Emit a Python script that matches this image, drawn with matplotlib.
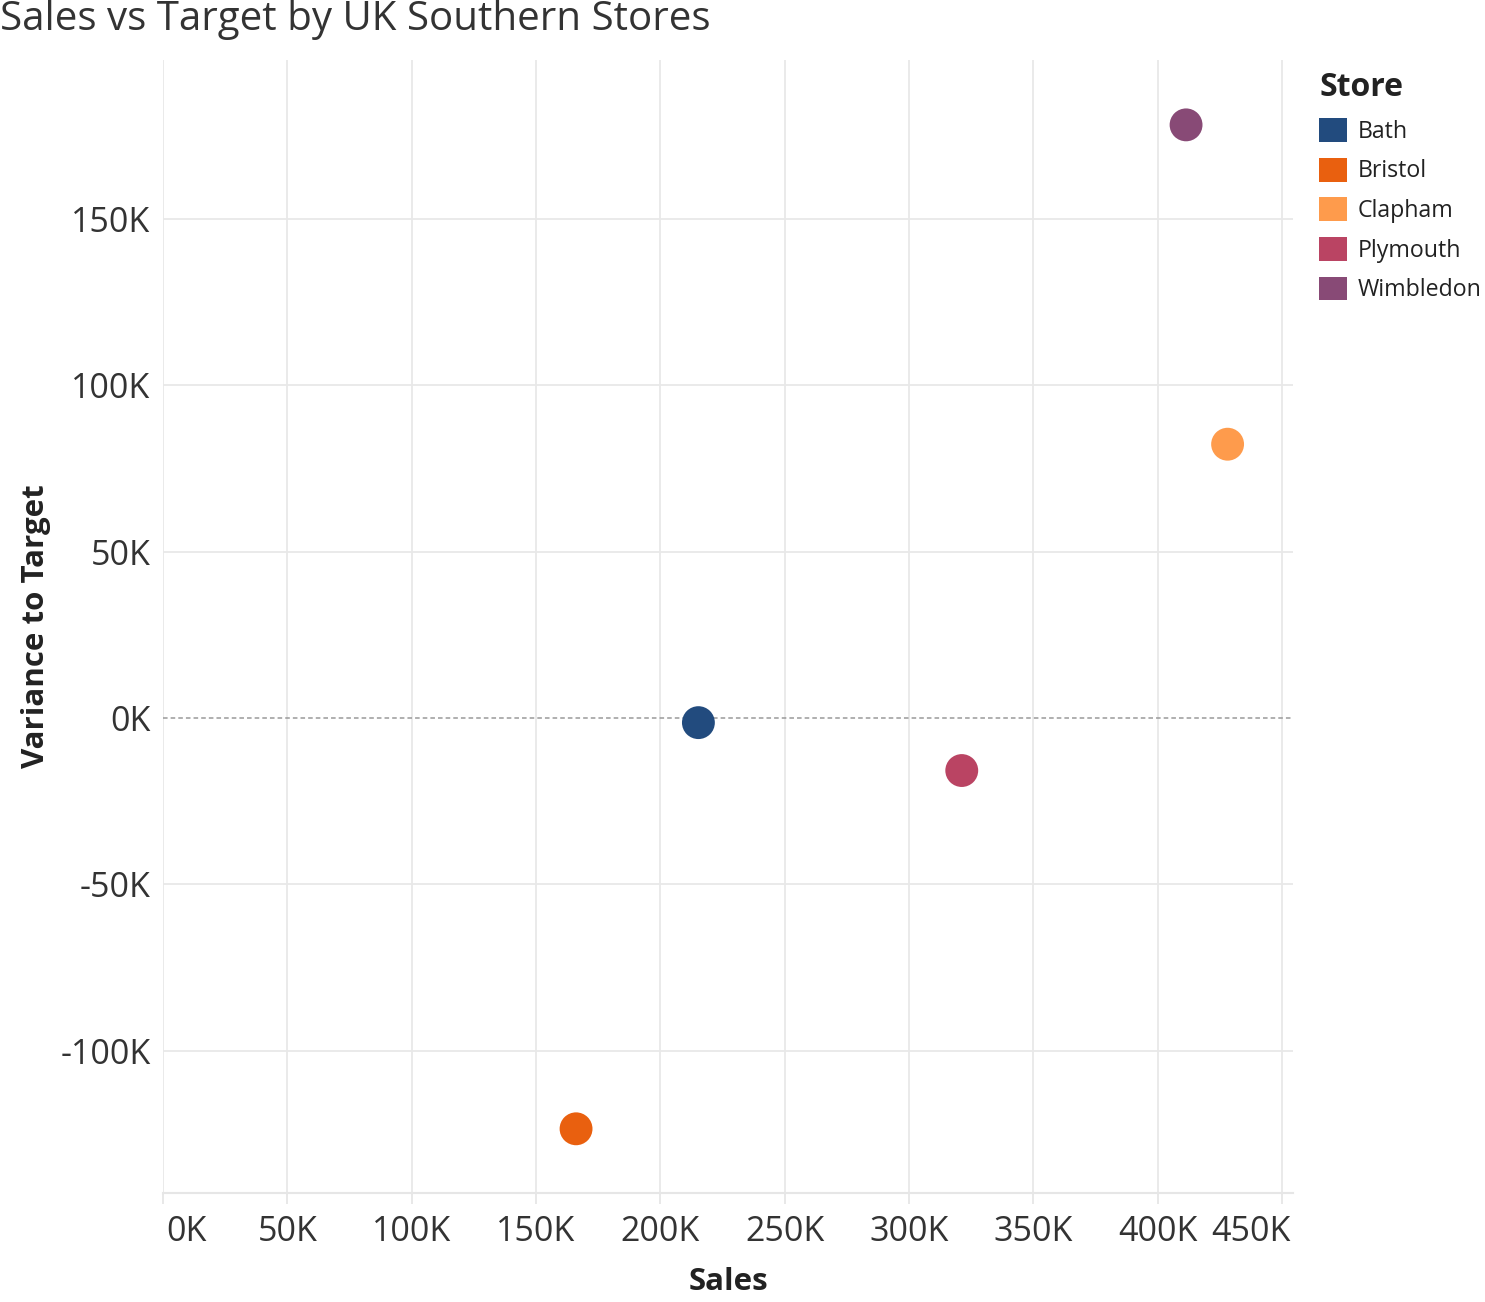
import matplotlib.pyplot as plt
import matplotlib.transforms as mtransforms
from matplotlib.patches import Patch
from matplotlib.ticker import FuncFormatter

stores = ["Bath", "Bristol", "Clapham", "Plymouth", "Wimbledon"]
sales = [215300, 166100, 428100, 321200, 411400]
variance = [-1400, -123500, 82300, -15800, 178300]
colors = ["#224b7e", "#e9600f", "#fe9b4c", "#ba4463", "#884a76"]

x_ticks = [0, 50000, 100000, 150000, 200000, 250000, 300000, 350000, 400000, 450000]
y_ticks = [-100000, -50000, 0, 50000, 100000, 150000]

plt.rcParams['font.family'] = ['Open Sans', 'DejaVu Sans']

fig = plt.figure(figsize=(14.85, 13.02), dpi=100)
ax = fig.add_axes([163 / 1485, 1 - 1193 / 1302, 1130 / 1485, 1133 / 1302])

ax.scatter(sales, variance, s=560, c=colors, edgecolors='none', zorder=3)

# Achsen
ax.set_xlim(0, 454400)
ax.set_ylim(-142800, 197800)
ax.set_xticks(x_ticks)
ax.set_yticks(y_ticks)
k_fmt = FuncFormatter(lambda v, _: f"{int(round(v / 1000))}K")
ax.xaxis.set_major_formatter(k_fmt)
ax.yaxis.set_major_formatter(k_fmt)

ax.grid(True, color='#e8e8e8', linewidth=1.3, zorder=0)
# Nulllinie gestrichelt statt normaler Gitterlinie
ax.yaxis.get_gridlines()[y_ticks.index(0)].set_visible(False)
ax.axhline(0, color='#9a9a9a', linewidth=1.1, linestyle=(0, (3, 2)), zorder=2)

for side in ['top', 'right', 'left']:
    ax.spines[side].set_visible(False)
ax.spines['bottom'].set_color('#e6e6e6')
ax.spines['bottom'].set_linewidth(1.5)

ax.tick_params(axis='x', colors='#e6e6e6', length=8, width=1.3, pad=8,
               labelsize=24.5, labelcolor='#333333')
ax.tick_params(axis='y', length=0, pad=9, labelsize=24.5, labelcolor='#333333')

# Erstes und letztes Label verschieben, damit sie im Rahmen bleiben
labels = ax.get_xticklabels()
labels[0].set_ha('left')
labels[0].set_transform(labels[0].get_transform() +
                        mtransforms.ScaledTranslation(3 / 100, 0, fig.dpi_scale_trans))
labels[-1].set_ha('right')
labels[-1].set_transform(labels[-1].get_transform() +
                         mtransforms.ScaledTranslation(9 / 100, 0, fig.dpi_scale_trans))

ax.set_xlabel('Sales', fontsize=22.5, fontweight='bold', color='#222222', labelpad=13)
ax.set_ylabel('Variance to Target', fontsize=22.5, fontweight='bold', color='#222222', labelpad=7)

fig.text(0.0, 1 - 20 / 1302, 'Sales vs Target by UK Southern Stores',
         fontsize=29, color='#333333', ha='left', va='center')

# Legende
handles = [Patch(facecolor=c, edgecolor='none', label=s) for s, c in zip(stores, colors)]
leg = fig.legend(handles=handles, title='Store', loc='upper left',
                 bbox_to_anchor=(1303 / 1485, 1 - 55 / 1302), frameon=False,
                 fontsize=16.7, title_fontsize=23, handlelength=1.2, handleheight=1.2,
                 handletextpad=0.45, labelspacing=0.6, alignment='left',
                 borderpad=0.2)
leg.get_title().set_fontweight('bold')
leg.get_title().set_color('#222222')
for t in leg.get_texts():
    t.set_color('#222222')

fig.savefig('out.png', dpi=100)
